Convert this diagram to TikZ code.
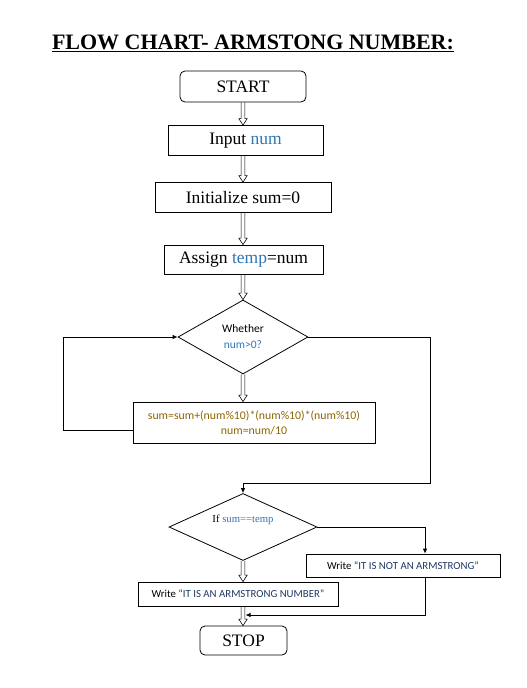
\documentclass[tikz,border=0pt]{standalone}
\usepackage{fontspec}
\setmainfont{Liberation Serif}[BoldFont={Liberation Serif Bold}]
\newfontfamily\calibfont{Carlito}
\usetikzlibrary{shapes.geometric,arrows.meta,calc}

\definecolor{varblue}{RGB}{46,117,182}
\definecolor{formulacol}{RGB}{140,100,0}
\definecolor{quotecol}{RGB}{31,56,100}

\tikzset{
  box/.style={draw, line width=0.8pt, inner sep=0pt,
    font=\fontsize{17.5}{20}\selectfont},
  term/.style={box, rounded corners=5pt},
  smallbox/.style={draw, line width=0.8pt, inner sep=0pt, align=center,
    font=\calibfont\fontsize{10.8}{13}\selectfont},
  decision/.style={draw, diamond, line width=0.8pt, inner sep=0pt},
  flow/.style={draw, line width=0.8pt, -{Latex[length=5pt,width=4.5pt]}},
  % hollow block arrow between two vertically stacked points
  hollow/.style={draw, line width=0.6pt,
    to path={let \p1=(\tikztostart), \p2=(\tikztotarget) in
      (\x1-1.9pt,\y1) -- (\x1-1.9pt,\y2+6.5pt) -- (\x1-4.2pt,\y2+6.5pt)
      -- (\x1,\y2) -- (\x1+4.2pt,\y2+6.5pt) -- (\x1+1.9pt,\y2+6.5pt)
      -- (\x1+1.9pt,\y1)}}
}

\begin{document}
\begin{tikzpicture}[x=1pt,y=-1pt]
\useasboundingbox (0,0) rectangle (527,688);

% heading
\node[anchor=base, inner sep=0pt, font=\bfseries\fontsize{22}{26}\selectfont]
  (title) at (253,49.3) {FLOW CHART- ARMSTONG NUMBER:};
\draw[line width=1.6pt] ([yshift=-2.2pt]title.base west) -- ([yshift=-2.2pt]title.base east);

\coordinate (axis) at (243,0);

% main column
\node[term, minimum width=126, minimum height=31] (start) at (243,86.5) {START};
\node[box, minimum width=155, minimum height=30] (input) at (245.5,140.5) {Input \textcolor{varblue}{num}};
\node[box, minimum width=176, minimum height=30] (init) at (243,197.5) {Initialize sum=0};
\node[box, minimum width=159, minimum height=29] (assign) at (243.5,259.5) {Assign \textcolor{varblue}{temp}=num};

\node[decision, minimum width=130, minimum height=74, align=center,
  font=\calibfont\fontsize{11.5}{16}\selectfont] (d1) at (243,337)
  {Whether\\\textcolor{varblue}{num>0?}};

\node[draw, line width=0.8pt, inner sep=0pt, minimum width=242, minimum height=41,
  align=center, text=formulacol, font=\calibfont\fontsize{11.8}{15}\selectfont]
  (body) at (254,422.5) {sum=sum+(num\%10)*(num\%10)*(num\%10)\\num=num/10};

\node[decision, minimum width=148, minimum height=67,
  label={[font=\fontsize{10.7}{12}\selectfont, yshift=7pt]center:If \textcolor{varblue}{sum==temp}}]
  (d2) at (243,527) {};

\node[smallbox, minimum width=194, minimum height=23] (notarm) at (403,565.5)
  {Write \textcolor{quotecol}{“IT IS NOT AN ARMSTRONG”}};
\node[smallbox, minimum width=200, minimum height=24] (arm) at (238,594)
  {Write \textcolor{quotecol}{“IT IS AN ARMSTRONG NUMBER”}};

\node[term, minimum width=87, minimum height=29] (stop) at (243.5,640.5) {STOP};

% hollow arrows down the main column
\draw[hollow] (start.south -| axis) to (input.north -| axis);
\draw[hollow] (input.south -| axis) to (init.north -| axis);
\draw[hollow] (init.south -| axis) to (assign.north -| axis);
\draw[hollow] (assign.south -| axis) to (d1.north);
\draw[hollow] (d1.south) to (body.north -| d1.south);
\draw[hollow] (d2.south) to (arm.north -| d2.south);
\draw[hollow] (arm.south -| axis) to (stop.north -| axis);

% loop back to the test
\coordinate (loopL) at (63,430);
\draw[flow] (body.west |- loopL) -- (loopL) |- (d1.west);

% exit of the loop
\coordinate (exitR) at (430,483);
\draw[flow] (d1.east) -| (exitR) -- (exitR -| d2.north) -- (d2.north);

% false branch
\coordinate (falseX) at (425,0);
\draw[flow] (d2.east) -| (notarm.north -| falseX);
\coordinate (merge) at (245.5,615);
\draw[flow] (notarm.south -| falseX) |- (merge);
\end{tikzpicture}
\end{document}
